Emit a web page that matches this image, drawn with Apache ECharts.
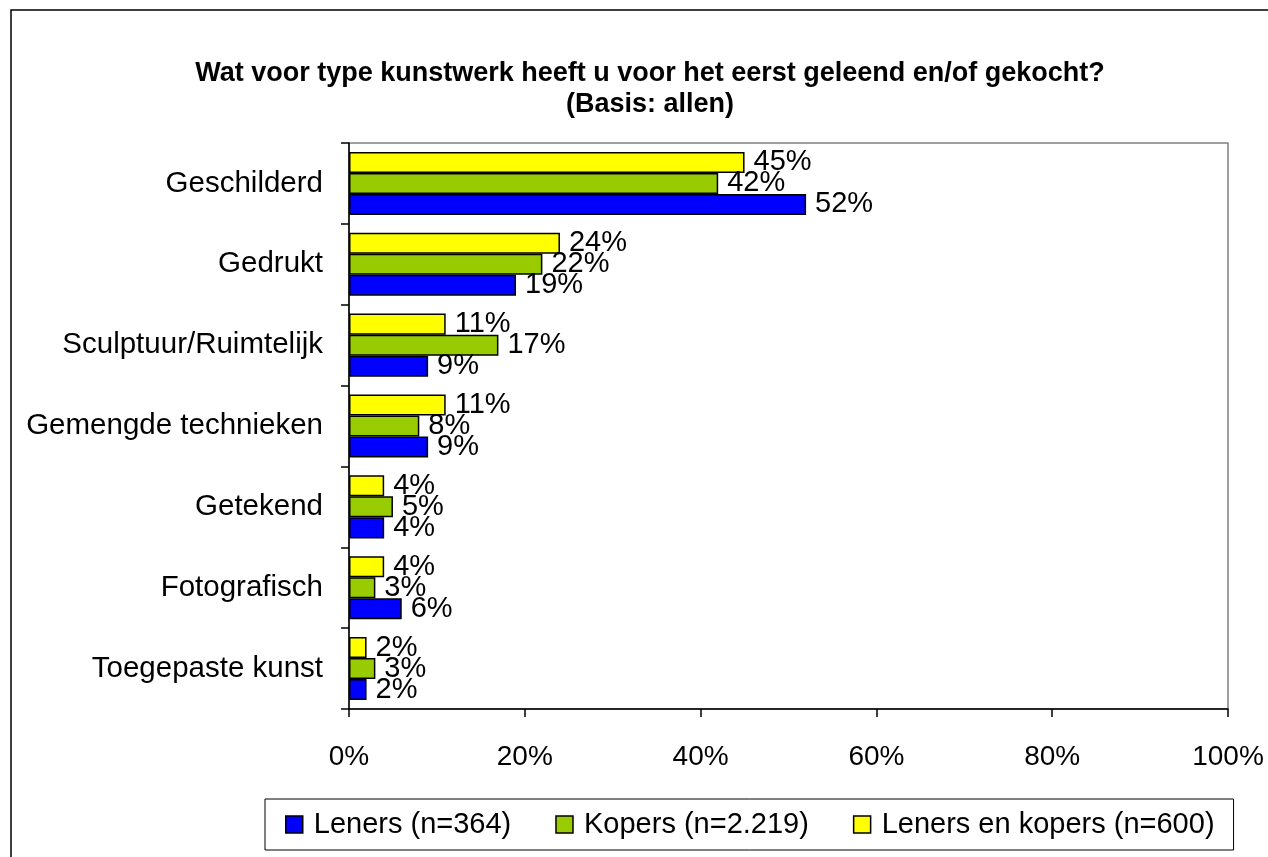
<!DOCTYPE html>
<html>

<head>
    <meta charset="utf-8">
    <title>Kunstwerk</title>
    <script src="https://cdn.jsdelivr.net/npm/echarts@6/dist/echarts.min.js"></script>
</head>

<body style="margin:0">
    <div id="main" style="width: 1268px;height:857px;"></div>
    <script type="text/javascript">
        // categorieen van boven naar beneden
        var categories = ['Geschilderd', 'Gedrukt', 'Sculptuur/Ruimtelijk', 'Gemengde technieken', 'Getekend', 'Fotografisch', 'Toegepaste kunst'];
        var leners = [52, 19, 9, 9, 4, 6, 2];
        var kopers = [42, 22, 17, 8, 5, 3, 3];
        var lenersKopers = [45, 24, 11, 11, 4, 4, 2];
        var seriesNames = ['Leners (n=364)', 'Kopers (n=2.219)', 'Leners en kopers (n=600)'];
        var colors = ['#0000ff', '#99cc00', '#ffff00'];

        var font = 'Liberation Sans, Arial, sans-serif';

        // ECharts tekent de categorie-as van onder naar boven
        function rev(arr) {
            return arr.slice().reverse();
        }

        var myChart = echarts.init(document.getElementById('main'));

        function bar(name, data, color) {
            return {
                name: name,
                type: 'bar',
                data: rev(data),
                barGap: '0%',
                barCategoryGap: '22%',
                itemStyle: {
                    color: color,
                    borderColor: '#000',
                    borderWidth: 1.5
                },
                label: {
                    show: true,
                    position: 'right',
                    distance: 9,
                    formatter: '{c}%',
                    color: '#000',
                    fontSize: 29,
                    fontFamily: font
                }
            };
        }

        var option = {
            animation: false,
            backgroundColor: '#fff',
            title: {
                text: 'Wat voor type kunstwerk heeft u voor het eerst geleend en/of gekocht?\n(Basis: allen)',
                left: 645,
                top: 53,
                textAlign: 'center',
                textStyle: {
                    fontFamily: font,
                    fontSize: 27,
                    fontWeight: 'bold',
                    color: '#000',
                    lineHeight: 31
                }
            },
            graphic: [{
                type: 'rect',
                shape: { x: 11, y: 10, width: 1280, height: 900 },
                style: { fill: null, stroke: '#000', lineWidth: 1.5 },
                z: -1
            }],
            legend: {
                left: 265,
                top: 799,
                orient: 'horizontal',
                icon: 'rect',
                itemWidth: 17,
                itemHeight: 17,
                itemGap: 44,
                padding: [11, 19, 11, 20],
                borderColor: '#000',
                borderWidth: 1,
                itemStyle: {
                    borderColor: '#000',
                    borderWidth: 1.5
                },
                textStyle: {
                    fontFamily: font,
                    fontSize: 29,
                    color: '#000',
                    padding: [0, 0, 0, 6]
                },
                data: seriesNames
            },
            grid: {
                left: 349,
                right: 40,
                top: 143,
                bottom: 148,
                show: true,
                borderColor: '#808080',
                borderWidth: 1.5
            },
            xAxis: {
                type: 'value',
                min: 0,
                max: 100,
                interval: 20,
                axisLine: { show: true, lineStyle: { color: '#000', width: 1.5 } },
                axisTick: { show: true, length: 8, lineStyle: { color: '#000', width: 1.5 } },
                splitLine: { show: false },
                axisLabel: {
                    formatter: '{value}%',
                    margin: 34,
                    color: '#000',
                    fontSize: 28,
                    fontFamily: font
                }
            },
            yAxis: {
                type: 'category',
                data: rev(categories),
                axisLine: { show: true, lineStyle: { color: '#000', width: 1.5 } },
                axisTick: { show: true, length: 8, lineStyle: { color: '#000', width: 1.5 } },
                axisLabel: {
                    margin: 26,
                    color: '#000',
                    fontSize: 29.5,
                    fontFamily: font
                }
            },
            // eerste serie komt bovenaan in elke categorie
            series: [
                bar(seriesNames[2], lenersKopers, colors[2]),
                bar(seriesNames[1], kopers, colors[1]),
                bar(seriesNames[0], leners, colors[0])
            ]
        };

        myChart.setOption(option);
    </script>
</body>

</html>
